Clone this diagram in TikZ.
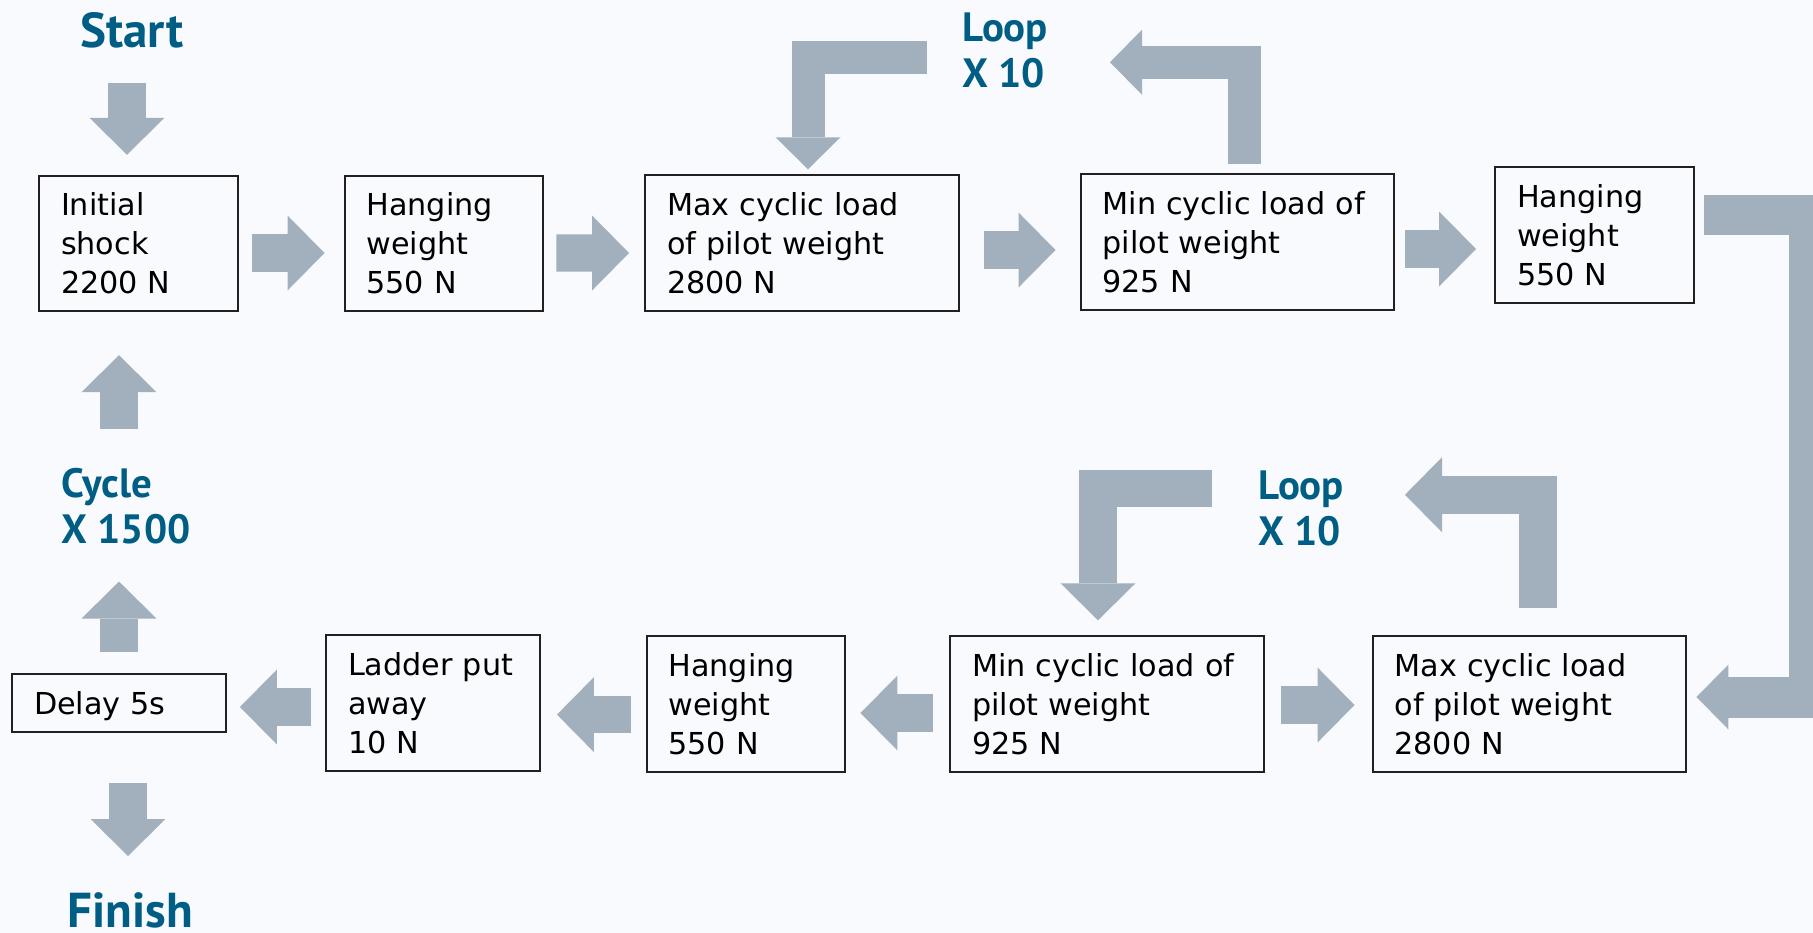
\documentclass[tikz,border=0pt]{standalone}
\usepackage{fontspec}
\setmainfont{DejaVu Sans}
\newfontfamily\lblfont{PT Sans}
\usetikzlibrary{arrows.meta,calc}

\definecolor{bg}{RGB}{248,250,254}
\definecolor{arrowgrey}{RGB}{161,176,188}
\definecolor{labelblue}{RGB}{0,94,132}
\definecolor{boxline}{RGB}{35,31,32}
\newcommand{\boxfont}{\fontsize{17.2}{22.2}\selectfont}
\newcommand{\lblsmall}{\lblfont\bfseries\fontsize{23.3}{26.2}\selectfont}
\newcommand{\lblbig}{\lblfont\bfseries\fontsize{27.9}{30}\selectfont}

\begin{document}
\begin{tikzpicture}
[x=0.02cm,y=-0.02cm,
box/.style={rectangle,draw=boxline,fill=bg,line width=0.04cm,inner xsep=0.44cm,inner ysep=0pt,minimum height=2.71cm,align=left,font=\boxfont},
lbl/.style={anchor=north west,inner sep=0pt,text=labelblue,align=left,font=\lblsmall},
flow/.style={draw=arrowgrey,line width=0.75cm,line join=miter,-{Triangle[length=0.74cm,width=1.5cm,line width=0pt]}},
thinflow/.style={draw=arrowgrey,line width=0.66cm,line join=miter,-{Triangle[length=0.64cm,width=1.3cm,line width=0pt]}},
bigflow/.style={draw=arrowgrey,line width=0.82cm,line join=miter,-{Triangle[length=0.64cm,width=1.3cm,line width=0pt]}}]
\useasboundingbox (0,0) rectangle (1813,933);
\fill[bg] (0,0) rectangle (1813,933);

\node[box,text width=3.1cm] (b1) at (138.5,243.5) {Initial\\shock\\2200 N};
\node[box,text width=3.1cm] (b2) at (444,243.5) {Hanging\\weight\\550 N};
\node[box,text width=5.4cm] (b3) at (802,243) {Max cyclic load\\of pilot weight\\2800 N};
\node[box,text width=5.4cm] (b4) at (1237.5,242) {Min cyclic load of\\pilot weight\\925 N};
\node[box,text width=3.1cm] (b5) at (1594.5,235) {Hanging\\weight\\550 N};
\node[box,text width=5.4cm] (b6) at (1529.5,704) {Max cyclic load\\of pilot weight\\2800 N};
\node[box,text width=5.4cm] (b7) at (1107,704) {Min cyclic load of\\pilot weight\\925 N};
\node[box,text width=3.1cm] (b8) at (746,704) {Hanging\\weight\\550 N};
\node[box,text width=3.4cm] (b9) at (433,703) {Ladder put\\away\\10 N};
\node[box,text width=3.4cm,minimum height=1.16cm,text depth=0pt] (b10) at (119,703) {Delay 5s};

\node[lbl,font=\lblbig] (start) at (80,12) {Start};
\node[lbl] (loopa) at (962,12) {Loop\\X 10};
\node[lbl] (loopb) at (1258,470) {Loop\\X 10};
\node[lbl] (cycle) at (61,468) {Cycle\\X 1500};
\node[lbl,font=\lblbig] (finish) at (67,892) {Finish};

\draw[flow] ($(start.south -| b1.north)+(-11.5,35)$) -- ($(b1.north)+(-11.5,-20)$);
\draw[flow] ($(b1.east)+(13,9.5)$) -- ($(b2.west)+(-19,9.5)$);
\draw[flow] ($(b2.east)+(12,9.5)$) -- ($(b3.west)+(-15,10)$);
\draw[flow] ($(b3.east)+(24,7)$) -- ($(b4.west)+(-24,8)$);
\draw[flow] ($(b4.east)+(10,7)$) -- ($(b5.west)+(-18,14)$);
\draw[thinflow] ($(b4.north)+(6.5,-9)$) |- ($(b4.north)+(-127.5,-111)$);
\draw[thinflow] ($(b3.north)+(125,-117)$) -| ($(b3.north)+(6,-5)$);
\draw[bigflow] ($(b5.east)+(9,-20)$) -| ($(b6.east)+(122,-7)$) -- ($(b6.east)+(9,-7)$);
\draw[flow] ($(b6.north)+(8.5,-27)$) |- ($(b6.north)+(-124.5,-140.5)$);
\draw[flow] ($(b7.north)+(105,-147)$) -| ($(b7.north)+(-9,-15)$);
\draw[flow] ($(b7.east)+(16,1)$) -- ($(b6.west)+(-17,1)$);
\draw[flow] ($(b7.west)+(-16,9)$) -- ($(b8.east)+(14,9)$);
\draw[flow] ($(b8.west)+(-15,10.6)$) -- ($(b9.east)+(16,11.6)$);
\draw[flow] ($(b9.west)+(-14,4)$) -- ($(b10.east)+(13,4)$);
\draw[flow] ($(b10.north)+(0,-21)$) -- ($(cycle.south -| b10.north)+(0,37)$);
\draw[flow] ($(cycle.north -| b1.south)+(-19.5,-39)$) -- ($(b1.south)+(-19.5,43)$);
\draw[flow] ($(b10.south)+(9,50)$) -- ($(finish.north -| b10.south)+(9,-36)$);
\end{tikzpicture}
\end{document}
